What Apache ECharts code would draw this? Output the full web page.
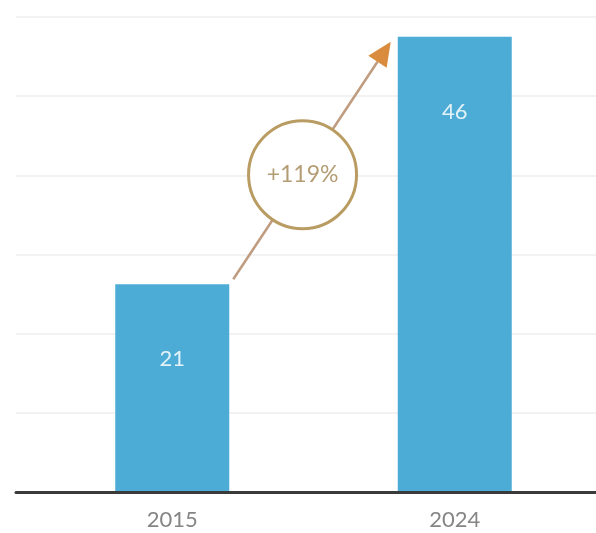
<!DOCTYPE html>
<html><head><meta charset="utf-8">
<script src="https://cdn.jsdelivr.net/npm/echarts@6/dist/echarts.min.js"></script>
<style>html,body{margin:0;padding:0;background:#fff}#c{width:596px;height:533px}</style>
</head><body><div id="c"></div>
<script>
const categories = ['2015', '2024'];
const values = [21, 46];
const yTicks = [0, 8, 16, 24, 32, 40, 48];

const chart = echarts.init(document.getElementById('c'));
const FONT = 'Lato, "Open Sans", sans-serif';
const growth = Math.round((values[1] - values[0]) / values[0] * 100);
const growthText = '+' + growth + '%';
const BAR_W = 114;

chart.setOption({
  animation: false,
  backgroundColor: '#fff',
  grid: [
    { left: 31, width: 570, top: 17, bottom: 41 },
    { left: 16, right: 0, top: 17, bottom: 41 }
  ],
  xAxis: [
    { type: 'category', gridIndex: 0, data: categories,
      axisLine: { show: false }, axisTick: { show: false },
      axisLabel: { color: '#858585', fontSize: 22, fontFamily: FONT, margin: 17 } },
    { type: 'value', gridIndex: 1, min: 0, max: 1, z: 5,
      axisLine: { show: true, onZero: false, lineStyle: { color: '#3a3a3a', width: 3 } },
      axisTick: { show: false }, axisLabel: { show: false }, splitLine: { show: false } }
  ],
  yAxis: [
    { type: 'value', gridIndex: 0, min: yTicks[0], max: yTicks[yTicks.length - 1], interval: 8,
      show: false, splitLine: { show: false } },
    { type: 'value', gridIndex: 1, min: yTicks[0], max: yTicks[yTicks.length - 1], interval: 8,
      axisLine: { show: false }, axisTick: { show: false }, axisLabel: { show: false },
      splitLine: { show: true, lineStyle: { color: '#f2f2f2', width: 2 } } }
  ],
  series: [{
    type: 'bar', xAxisIndex: 0, yAxisIndex: 0,
    data: values, barWidth: BAR_W,
    itemStyle: { color: '#4cacd6' },
    label: { show: true, position: 'insideTop', distance: 64,
      color: '#e3f2f9', fontSize: 22, fontFamily: FONT }
  }]
});

const p1 = chart.convertToPixel({ xAxisIndex: 0, yAxisIndex: 0 }, [categories[0], values[0]]);
const p2 = chart.convertToPixel({ xAxisIndex: 0, yAxisIndex: 0 }, [categories[1], values[1]]);
const start = [p1[0] + BAR_W / 2 + 4, p1[1] - 5];
const end = [p2[0] - BAR_W / 2 - 7, p2[1] + 5];
const dx = end[0] - start[0], dy = end[1] - start[1];
const len = Math.sqrt(dx * dx + dy * dy);
const ux = dx / len, uy = dy / len;
const headLen = 24, headHalf = 11;
const base = [end[0] - ux * headLen, end[1] - uy * headLen];
const px = -uy, py = ux;
const t = 0.44;
const cc = [start[0] + dx * t, start[1] + dy * t];

chart.setOption({
  graphic: [
    { type: 'line', z: 10, shape: { x1: start[0], y1: start[1], x2: base[0], y2: base[1] },
      style: { stroke: '#bf9c80', lineWidth: 2.5 } },
    { type: 'polygon', z: 11, shape: { points: [end, [base[0] + px * headHalf, base[1] + py * headHalf], [base[0] - px * headHalf, base[1] - py * headHalf]] },
      style: { fill: '#d98b3e' } },
    { type: 'circle', z: 12, shape: { cx: cc[0], cy: cc[1], r: 54 },
      style: { fill: '#ffffff', stroke: '#b99c62', lineWidth: 3 } },
    { type: 'text', z: 13, x: cc[0], y: cc[1],
      style: { text: growthText, fill: '#b49d74', fontSize: 23, fontFamily: FONT, align: 'center', verticalAlign: 'middle' } }
  ]
});
</script></body></html>
